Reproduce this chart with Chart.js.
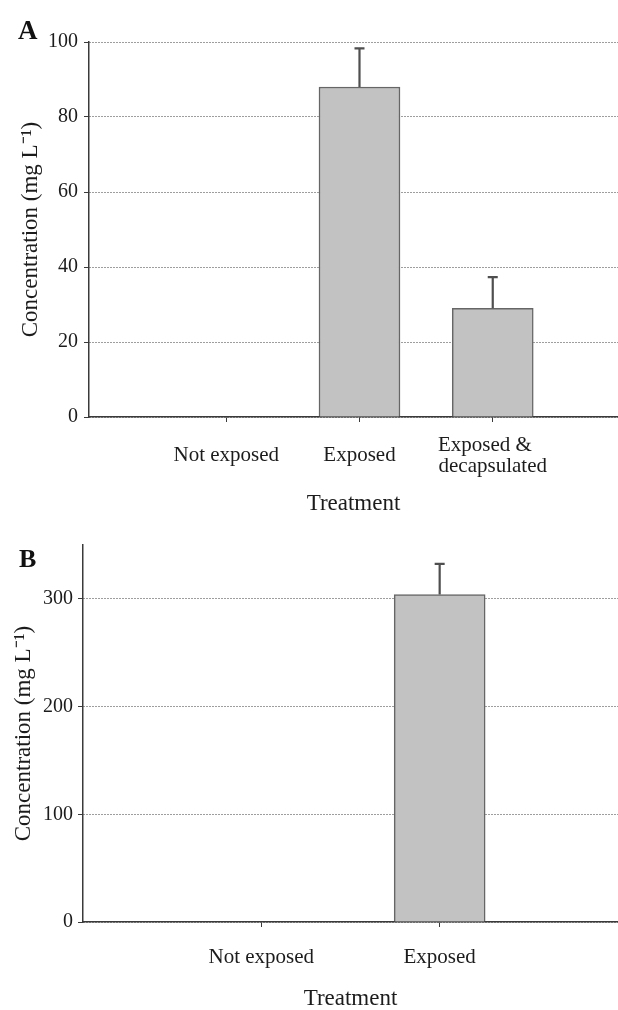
<!DOCTYPE html>
<html>
<head>
<meta charset="utf-8">
<script src="https://cdn.jsdelivr.net/npm/chart.js@4/dist/chart.umd.min.js"></script>
<style>
  html, body { margin: 0; padding: 0; background: #fff; width: 618px; height: 1010px; overflow: hidden; }
  .panel { position: absolute; left: 0; }
  .tag { position: absolute; font-family: "Liberation Serif", serif; font-weight: bold; color: #111; line-height: 1; }
</style>
</head>
<body>
<div class="panel" style="top:0; width:618px; height:525px;"><canvas id="chartA" width="618" height="525"></canvas></div>
<div class="panel" style="top:520px; width:618px; height:490px;"><canvas id="chartB" width="618" height="490"></canvas></div>
<div class="tag" style="left:18px; top:17px; font-size:27px;">A</div>
<div class="tag" style="left:19px; top:546px; font-size:26px;">B</div>
<script>
// Panel A: concentration by treatment
const categoriesA = ['Not exposed', 'Exposed', ['Exposed &   ', 'decapsulated']];
const meansA = [0, 88, 29];
const errorsA = [0, 10.3, 8.3];
const yTicksA = [0, 20, 40, 60, 80, 100];

// Panel B: concentration by treatment
const categoriesB = ['Not exposed', 'Exposed'];
const meansB = [0, 304];
const errorsB = [0, 28.5];
const yTicksB = [0, 100, 200, 300];

const SERIF = '"Liberation Serif", "Times New Roman", serif';
const INK = '#1c1c1c';
const AXIS = '#3a3a3a';

// Upper error whiskers drawn from each bar's mean to mean + error
const errorBars = {
  id: 'errorBars',
  afterDatasetsDraw(chart, args, opts) {
    const meta = chart.getDatasetMeta(0);
    const y = chart.scales.y;
    const ctx = chart.ctx;
    ctx.save();
    ctx.strokeStyle = opts.color;
    ctx.lineWidth = opts.width;
    meta.data.forEach((bar, i) => {
      const err = opts.errors[i];
      if (!err) return;
      const v = opts.means[i];
      const yBase = y.getPixelForValue(v);
      const yTop = y.getPixelForValue(v + err);
      ctx.beginPath();
      ctx.moveTo(bar.x, yBase);
      ctx.lineTo(bar.x, yTop);
      ctx.moveTo(bar.x - opts.cap / 2, yTop);
      ctx.lineTo(bar.x + opts.cap / 2, yTop);
      ctx.stroke();
    });
    ctx.restore();
  }
};

function makeChart(id, cfg) {
  const { categories, means, errors, yTicks, yMax, xMin, xMax, yWidth, xHeight,
          padTop, barW, yTitlePad, xTickPad, xTitlePad, yTickPad } = cfg;
  return new Chart(document.getElementById(id), {
    type: 'bar',
    data: {
      datasets: [{
        data: means.map((v, i) => ({ x: i + 1, y: v })),
        backgroundColor: '#c2c2c2',
        borderColor: '#666666',
        borderWidth: 1.5,
        borderSkipped: 'bottom',
        barThickness: barW
      }]
    },
    options: {
      responsive: false,
      animation: false,
      layout: { padding: { top: padTop, right: 0, bottom: 0, left: 0 } },
      plugins: {
        legend: { display: false },
        tooltip: { enabled: false },
        errorBars: { means, errors, color: '#4f4f4f', width: 2.2, cap: 10 }
      },
      scales: {
        x: {
          type: 'linear',
          min: xMin,
          max: xMax,
          offset: false,
          afterBuildTicks(scale) { scale.ticks = categories.map((c, i) => ({ value: i + 1 })); },
          afterFit(scale) { scale.height = xHeight; },
          grid: { offset: false, drawOnChartArea: false, drawTicks: true, tickLength: 5, tickColor: AXIS, tickWidth: 1 },
          border: { display: true, color: AXIS, width: 1.5 },
          ticks: {
            autoSkip: false,
            maxRotation: 0,
            padding: xTickPad,
            crossAlign: 'center',
            color: INK,
            font: { family: SERIF, size: 21, lineHeight: 1.0 },
            callback: (v) => categories[Math.round(v) - 1]
          },
          title: {
            display: true,
            text: 'Treatment',
            color: INK,
            font: { family: SERIF, size: 23, lineHeight: 1 },
            padding: { top: 0, bottom: xTitlePad }
          }
        },
        y: {
          min: 0,
          max: yMax,
          afterBuildTicks(scale) { scale.ticks = yTicks.map(v => ({ value: v })); },
          afterFit(scale) { scale.width = yWidth; },
          grid: { color: '#3c3c3c', lineWidth: 1, drawTicks: true, tickLength: 5, tickColor: AXIS, tickWidth: 1, tickBorderDash: [] },
          border: { display: true, color: AXIS, width: 1.5, dash: [1, 2] },
          ticks: {
            padding: yTickPad,
            color: INK,
            font: { family: SERIF, size: 20 }
          },
          title: {
            display: true,
            text: 'Concentration (mg L\u207B\u00B9)',
            color: INK,
            font: { family: SERIF, size: 23, lineHeight: 1 },
            padding: { top: yTitlePad, bottom: 0 }
          }
        }
      }
    },
    plugins: [errorBars]
  });
}

makeChart('chartA', {
  categories: categoriesA, means: meansA, errors: errorsA, yTicks: yTicksA,
  yMax: 100, xMin: -0.03, xMax: 3.94, yWidth: 89, xHeight: 108, padTop: 42,
  barW: 81, yTitlePad: 19, xTickPad: 23, xTitlePad: 10, yTickPad: 6
});

makeChart('chartB', {
  categories: categoriesB, means: meansB, errors: errorsB, yTicks: yTicksB,
  yMax: 350, xMin: 0, xMax: 3, yWidth: 83, xHeight: 88, padTop: 25,
  barW: 91, yTitlePad: 12, xTickPad: 30, xTitlePad: 0, yTickPad: 5
});
</script>
</body>
</html>
